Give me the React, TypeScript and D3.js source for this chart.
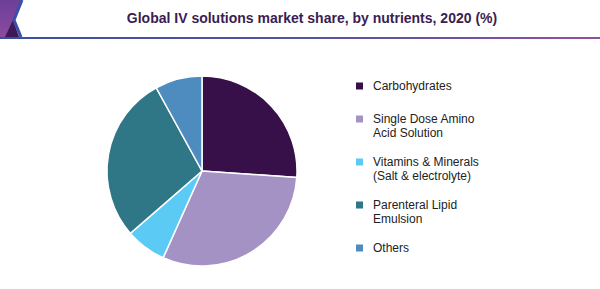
import React from "react";
import * as d3 from "d3";

const title = "Global IV solutions market share, by nutrients, 2020 (%)";
const categories = [
  "Carbohydrates",
  "Single Dose Amino Acid Solution",
  "Vitamins & Minerals (Salt & electrolyte)",
  "Parenteral Lipid Emulsion",
  "Others",
];
const legendLines = [
  ["Carbohydrates"],
  ["Single Dose Amino", "Acid Solution"],
  ["Vitamins & Minerals", "(Salt & electrolyte)"],
  ["Parenteral Lipid", "Emulsion"],
  ["Others"],
];
const shares = [26.1, 30.6, 6.9, 28.4, 8.0];
const colors = ["#37104a", "#a592c5", "#5bcbf5", "#2f7686", "#4e8bbf"];

const W = 600;
const H = 289;
const cx = 202;
const cy = 171;
const R = 95;
const FONT = "'Liberation Sans', Arial, sans-serif";

export default function App() {
  const data = categories.map((c, i) => ({ name: c, value: shares[i], color: colors[i] }));
  const pie = d3.pie<any>().sort(null).value((d: any) => d.value);
  const arcs = pie(data);
  const arc = d3.arc<any>().innerRadius(0).outerRadius(R);

  // legend layout
  const lineH = 14.5;
  const legendX = 356;
  const textX = 373;
  let y = 85.5;
  const legendRows = legendLines.map((lines, i) => {
    const row = { y, lines, color: colors[i] };
    y += lines.length === 1 ? 33 : lineH + 28.5;
    return row;
  });

  return (
    <svg
      width={W}
      height={H}
      style={{ position: "absolute", left: 0, top: 0, background: "#fff" }}
      fontFamily={FONT}
    >
      <defs>
        <linearGradient id="hdrLine" x1="0" x2="1" y1="0" y2="0">
          <stop offset="0" stopColor="#3a4fa2" />
          <stop offset="0.6" stopColor="#5b53a3" />
          <stop offset="1" stopColor="#93509f" />
        </linearGradient>
        <linearGradient id="logoG" x1="0" x2="0" y1="0" y2="1">
          <stop offset="0" stopColor="#6e3f98" />
          <stop offset="1" stopColor="#8a4aa0" />
        </linearGradient>
      </defs>
      {/* logo */}
      <polygon points="0,0 21,0 13,20 19,37 0,37" fill="url(#logoG)" />
      <polygon points="13,20 19,37 5,37" fill="#3d1a55" />
      <polyline points="22,0 14,20 21,37" fill="none" stroke="#3a4fa8" strokeWidth={3} />
      {/* header line */}
      <rect x={0} y={37} width={W} height={2} fill="url(#hdrLine)" />
      <text
        x={312}
        y={23}
        textAnchor="middle"
        fontSize={14}
        fontWeight="bold"
        fill="#3a1d52"
      >
        {title}
      </text>
      {/* pie */}
      <g transform={`translate(${cx},${cy})`}>
        {arcs.map((a, i) => (
          <path key={i} d={arc(a) as string} fill={a.data.color} stroke="#fff" strokeWidth={1.5} />
        ))}
      </g>
      {/* legend */}
      {legendRows.map((r, i) => (
        <g key={i}>
          <rect x={legendX} y={r.y - 3} width={7} height={7} fill={r.color} />
          {r.lines.map((l, j) => (
            <text key={j} x={textX} y={r.y + j * lineH + 4.3} fontSize={12} fill="#222">
              {l}
            </text>
          ))}
        </g>
      ))}
    </svg>
  );
}
